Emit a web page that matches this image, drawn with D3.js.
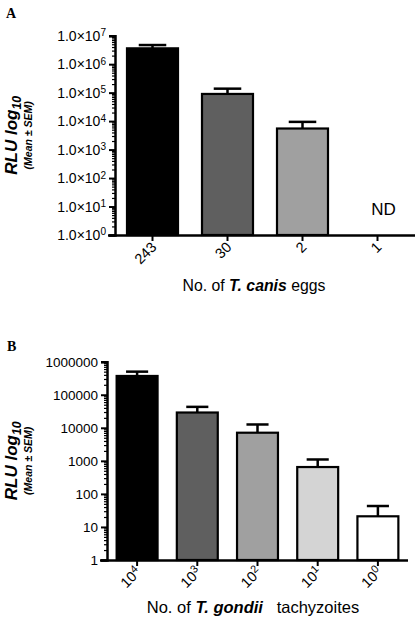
<!DOCTYPE html>
<html><head><meta charset="utf-8">
<script src="https://cdn.jsdelivr.net/npm/d3@7"></script>
<style>
body{margin:0;background:#fff;}
svg{display:block;font-family:"Liberation Sans",Arial,sans-serif;}
</style></head><body>
<svg id="c" width="418" height="624"></svg>
<script>
// Panel A data
const catsA = ["243", "30", "2", "1"];
const meansA = [3.6e6, 9.0e4, 5.5e3, null];
const semA = [1.1e6, 4.8e4, 3.9e3, null];
const colorsA = ["#000000", "#5f5f5f", "#a0a0a0", "#ffffff"];
const ticksAExp = [0, 1, 2, 3, 4, 5, 6, 7];

// Panel B data
const catsBExp = ["4", "3", "2", "1", "0"];
const meansB = [3.7e5, 2.9e4, 7.1e3, 650, 21];
const semB = [1.3e5, 1.4e4, 5.5e3, 450, 22];
const colorsB = ["#000000", "#5f5f5f", "#a0a0a0", "#d4d4d4", "#ffffff"];
const ticksB = [1, 10, 100, 1000, 10000, 100000, 1000000];

const svg = d3.select("#c");

function minorTicks(lo, hi) {
  const out = [];
  for (let e = lo; e < hi; e++) for (let m = 2; m <= 9; m++) out.push(m * Math.pow(10, e));
  return out;
}

function panel(cfg) {
  const g = svg.append("g");
  const x = d3.scaleBand().domain(cfg.cats).range([cfg.x0, cfg.x1]).paddingInner(0.32).paddingOuter(0.16);
  const y = d3.scaleLog().domain([1, cfg.ymax]).range([cfg.y0, cfg.y1]);

  // minor ticks
  g.append("g").attr("transform", `translate(${cfg.x0},0)`)
    .call(d3.axisLeft(y).tickValues(minorTicks(0, Math.round(Math.log10(cfg.ymax)))).tickSize(3).tickFormat(""))
    .call(s => s.select(".domain").remove())
    .call(s => s.selectAll("line").attr("stroke-width", 1.2));

  // major ticks
  const ya = g.append("g").attr("transform", `translate(${cfg.x0},0)`)
    .call(d3.axisLeft(y).tickValues(cfg.majors).tickSize(6).tickPadding(3).tickFormat(cfg.fmt))
    .call(s => s.select(".domain").attr("stroke-width", 2.5))
    .call(s => s.selectAll("line").attr("stroke-width", 2));
  ya.selectAll("text").attr("font-size", cfg.yFont).attr("fill", "#000")
    .attr("font-family", "'Liberation Sans',Arial,sans-serif");
  if (cfg.sup) {
    ya.selectAll("text").each(function(d) {
      const t = d3.select(this); t.text("");
      t.append("tspan").text("1.0\u00d710");
      t.append("tspan").attr("dy", "-0.45em").attr("font-size", "0.72em").text(Math.round(Math.log10(d)));
    });
  }

  // bars
  cfg.cats.forEach((c, i) => {
    const v = cfg.means[i];
    if (v == null) return;
    const bx = x(c), bw = x.bandwidth();
    const cx = bx + bw / 2;
    const top = y(v), capY = y(v + cfg.sems[i]);
    g.append("line").attr("x1", cx).attr("x2", cx).attr("y1", top).attr("y2", capY)
      .attr("stroke", "#000").attr("stroke-width", 2.5);
    g.append("line").attr("x1", cx - bw * 0.27).attr("x2", cx + bw * 0.27).attr("y1", capY).attr("y2", capY)
      .attr("stroke", "#000").attr("stroke-width", 2.5);
    g.append("rect").attr("x", bx).attr("y", top).attr("width", bw).attr("height", y(1) - top)
      .attr("fill", cfg.colors[i]).attr("stroke", "#000").attr("stroke-width", 2.2);
  });

  // x axis
  g.append("g").attr("transform", `translate(0,${cfg.y0})`)
    .call(d3.axisBottom(x).tickSize(6).tickFormat(""))
    .call(s => s.select(".domain").attr("stroke-width", 2.5).attr("d", `M${cfg.x0 - 7},0.5H${cfg.x1}`))
    .call(s => s.selectAll("line").attr("stroke-width", 2));
  // rotated tick labels
  cfg.cats.forEach((c, i) => {
    const cx = x(c) + x.bandwidth() / 2;
    const t = g.append("text").attr("text-anchor", "end")
      .attr("font-size", cfg.xFont)
      .attr("transform", `translate(${cx + 5},${cfg.y0 + 13}) rotate(-45)`);
    if (cfg.xsup) {
      t.append("tspan").text("10");
      t.append("tspan").attr("dy", "-0.45em").attr("font-size", "0.75em").text(c);
    } else t.text(c);
  });

  // x title
  const xt = g.append("text").attr("x", cfg.xtX).attr("y", cfg.xtY).attr("text-anchor", "middle")
    .attr("font-size", cfg.xtFont);
  cfg.xtitle.forEach(p => {
    const s = xt.append("tspan").text(p.t);
    if (p.b) s.attr("font-weight", "bold").attr("font-style", "italic");
  });

  // y title
  const ymid = (cfg.y0 + cfg.y1) / 2;
  const yt = g.append("text").attr("transform", `translate(${cfg.ytX},${ymid}) rotate(-90)`)
    .attr("text-anchor", "middle").attr("font-weight", "bold").attr("font-style", "italic").attr("font-size", 17);
  yt.append("tspan").text("RLU log");
  yt.append("tspan").attr("dy", "0.3em").attr("font-size", "0.72em").text("10");
  g.append("text").attr("transform", `translate(${cfg.ytX + 15},${ymid}) rotate(-90)`)
    .attr("text-anchor", "middle").attr("font-weight", "bold").attr("font-style", "italic").attr("font-size", 10.5)
    .text("(Mean \u00b1 SEM)");

  // panel letter
  g.append("text").attr("x", cfg.lx).attr("y", cfg.ly).attr("font-family", "'Liberation Serif',serif")
    .attr("font-weight", "bold").attr("font-size", 14).text(cfg.letter);
  return {g, x, y};
}

const A = panel({
  cats: catsA, means: meansA, sems: semA, colors: colorsA,
  x0: 115, x1: 415, y0: 235, y1: 35.7, ymax: 1e7,
  majors: ticksAExp.map(e => Math.pow(10, e)), fmt: d => d, sup: true, yFont: 14,
  xFont: 14.5, xsup: false,
  xtitle: [{t: "No. of "}, {t: "T. canis", b: true}, {t: " eggs"}], xtX: 254, xtY: 291, xtFont: 15.8,
  ytX: 17, letter: "A", lx: 6, ly: 18
});
// ND label for the not-detected category
A.g.append("text").attr("x", A.x(catsA[3]) + A.x.bandwidth() / 2 + 6).attr("y", 215)
  .attr("text-anchor", "middle").attr("font-size", 17).text("ND");

panel({
  cats: catsBExp, means: meansB, sems: semB, colors: colorsB,
  x0: 107, x1: 408, y0: 560, y1: 361.7, ymax: 1e6,
  majors: ticksB, fmt: d3.format("d"), sup: false, yFont: 13.5,
  xFont: 14.5, xsup: true,
  xtitle: [{t: "No. of "}, {t: "T. gondii", b: true}, {t: "\u00a0\u00a0 tachyzoites"}], xtX: 253, xtY: 613, xtFont: 16.5,
  ytX: 17, letter: "B", lx: 7, ly: 351
});
</script>
</body></html>
